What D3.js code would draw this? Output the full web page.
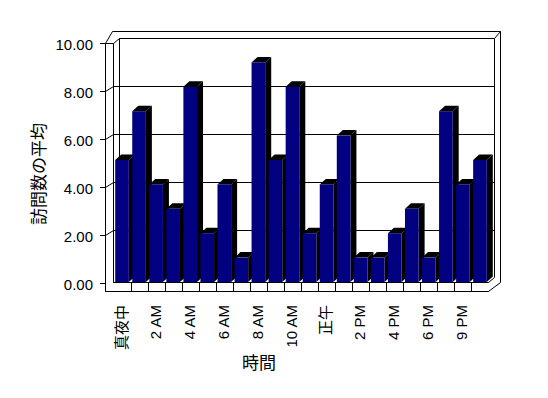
<!DOCTYPE html>
<html>
<head>
<meta charset="utf-8">
<script src="https://cdn.jsdelivr.net/npm/d3@7"></script>
<style>
  body { margin: 0; background: #fff; }
  text { font-family: "Liberation Sans", Arial, "Noto Sans CJK JP", sans-serif; fill: #000; }
</style>
</head>
<body>
<svg class="chart"></svg>
<script>
// data
var categories = ["真夜中","1 AM","2 AM","3 AM","4 AM","5 AM","6 AM","7 AM","8 AM","9 AM","10 AM","11 AM",
                  "正午","1 PM","2 PM","3 PM","4 PM","5 PM","6 PM","8 PM","9 PM","10 PM"];
var visits = [5,7,4,3,8,2,4,1,9,5,8,2,4,6,1,1,2,3,1,7,4,5];
var yTicks = [0,2,4,6,8,10];
var yTitle = "訪問数の平均";
var xTitle = "時間";

var width = 548;
var height = 398;
var dx = 6, dy = -5.5;   // depth offset of the 3d boxes

var svg = d3.select(".chart")
  .attr("width", width)
  .attr("height", height);

// scales
var xCat = d3.scaleBand().domain(categories).range([113.5, 488.5]);
var x = d3.scaleBand().domain(categories).range([113.5, 488.5])
  .paddingInner(0.2).paddingOuter(0.1);
var yFront = d3.scaleLinear().domain([0,10]).range([283.5, 43.5]);
var yBack = d3.scaleLinear().domain([0,10]).range([278.5, 38.5]);
var yBar = d3.scaleLinear().domain([0,10]).range([282, 38]);

var line = function(d){
  svg.append("path").attr("d", d).attr("fill","none")
     .attr("stroke","#000").attr("stroke-width",1);
};

// frame of walls and floor
line("M105.5,291.5V43.5L112.5,31.5H500.5V282.5L488.5,291.5Z");
line("M105.5,43.5H113.5");
line("M113.5,282.5V43.5L119.5,38.5H494.5V277.5L488.5,282.5Z");
line("M119.5,38.5V278.5");
line("M494.5,38.5L500.5,31.5");

// gridlines and ticks
svg.selectAll(".grid")
   .data(yTicks.filter(function(v){return v>0 && v<10;}))
   .enter()
   .append("path")
   .attr("d", function(v){
     return "M105.5," + yFront(v) + "L113.5," + yBack(v) + "L494.5," + yBack(v);
   })
   .attr("fill","none")
   .attr("stroke","#000");

svg.selectAll(".tick")
   .data(yTicks)
   .enter()
   .append("path")
   .attr("d", function(v){ return "M100," + yFront(v) + "H105.5"; })
   .attr("stroke","#000");

// y labels
svg.selectAll(".ylab")
   .data(yTicks)
   .enter()
   .append("text")
   .text(function(v){ return v.toFixed(2); })
   .attr("x", 93)
   .attr("y", function(v){ return yFront(v) + 1; })
   .attr("text-anchor","end")
   .attr("dominant-baseline","central")
   .style("font-size","15px");

// bars: side and top, then front face, left to right
var bars = svg.selectAll(".bar")
   .data(visits)
   .enter()
   .append("g");

bars.append("path")
   .attr("d", function(v,i){
     var xr = x(categories[i]) + x.bandwidth();
     var yt = yBar(v);
     return "M" + xr + "," + yt + "L" + (xr+dx) + "," + (yt+dy) +
            "L" + (xr+dx) + "," + (282+dy) + "L" + xr + ",282Z";
   })
   .attr("fill","#000");

bars.append("path")
   .attr("d", function(v,i){
     var xl = x(categories[i]);
     var xr = xl + x.bandwidth();
     var yt = yBar(v);
     return "M" + xl + "," + yt + "L" + (xl+dx) + "," + (yt+dy) +
            "L" + (xr+dx) + "," + (yt+dy) + "L" + xr + "," + yt + "Z";
   })
   .attr("fill","#000");

bars.append("rect")
   .attr("x", function(v,i){ return x(categories[i]); })
   .attr("y", function(v){ return yBar(v); })
   .attr("width", x.bandwidth())
   .attr("height", function(v){ return 282 - yBar(v); })
   .attr("fill","#000080");

// floor front band
line("M113.5,282.5H488.5");
line("M105.5,291.5H488.5");
svg.selectAll(".div")
   .data(categories.slice(1))
   .enter()
   .append("path")
   .attr("d", function(c){ return "M" + (Math.round(xCat(c)) + 0.5) + ",282.5V291.5"; })
   .attr("stroke","#000");

// x labels, every other category
svg.selectAll(".xlab")
   .data(categories.filter(function(c,i){ return i % 2 === 0; }))
   .enter()
   .append("text")
   .text(function(c){ return c; })
   .attr("transform", function(c){
     return "translate(" + (xCat(c) + xCat.bandwidth()/2 + 4.5) + ",305) rotate(-90)";
   })
   .attr("text-anchor","end")
   .style("font-size","15px");

// titles
svg.append("text")
   .text(yTitle)
   .attr("transform","translate(45,174) rotate(-90)")
   .attr("text-anchor","middle")
   .style("font-size","17px");

svg.append("text")
   .text(xTitle)
   .attr("x", 259)
   .attr("y", 369)
   .attr("text-anchor","middle")
   .style("font-size","17px");
</script>
</body>
</html>
